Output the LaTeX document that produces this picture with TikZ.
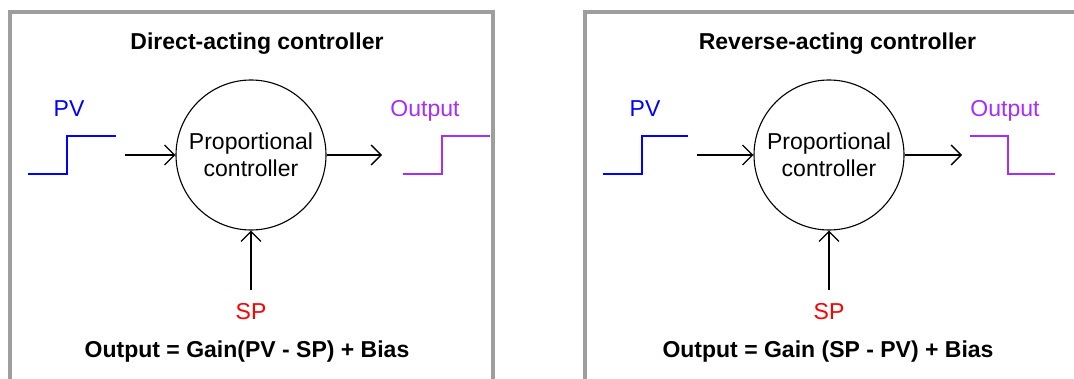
\documentclass[tikz,border=0pt]{standalone}
\usepackage{fontspec}
\setmainfont{Liberation Sans}
\usetikzlibrary{arrows.meta}
\definecolor{pvblue}{RGB}{0,0,255}
\definecolor{outviolet}{RGB}{165,45,255}
\definecolor{spred}{RGB}{255,0,0}
\begin{document}
\begin{tikzpicture}[x=0.5pt, y=-0.5pt, every node/.style={font=\fontsize{11.5}{13.5}\selectfont}, >={Straight Barb[length=5pt, width=10pt]}, panel/.style={draw=black!38, line width=2pt}, ctrl/.style={draw, circle, line width=0.55pt, minimum size=75pt, inner sep=0pt, align=center}, sig/.style={line width=0.8pt}, conn/.style={->, line width=0.65pt}, heading/.style={font=\fontsize{11.5}{13.5}\selectfont\bfseries, anchor=base}]
	\useasboundingbox (0,0) rectangle (1074,379);
	\clip (0,0) rectangle (1074,379);
	\draw[panel] (10,12) rectangle (493,420);
	\draw[panel] (585,12) rectangle (1120,420);
	% direct-acting
	\begin{scope}
		\node[heading] (titleA) at (257,50) {Direct-acting controller};
		\node[ctrl] (ctrlA) at (251,155) {Proportional\\controller};
		\node[pvblue, anchor=base] (pvA) at (69,116.5) {PV};
		\node[outviolet, anchor=base] (outA) at (425,116.5) {Output};
		\node[spred, anchor=base] (spA) at (251,319) {SP};
		\node[heading] (eqA) at (247,357) {Output = Gain(PV - SP) + Bias};
		\draw[sig, pvblue] (28,174) -- (67,174) -- (67,136) -- (116,136);
		\draw[sig, outviolet] (403,174) -- (442,174) -- (442,136) -- (490,136);
		\coordinate (pvinA) at (125,155);
		\coordinate (outendA) at (382,155);
		\draw[conn] (pvinA) -- (ctrlA);
		\draw[conn] (ctrlA) -- (outendA);
		\draw[conn] ([yshift=3pt]spA.north) -- (ctrlA.south);
	\end{scope}
	% reverse-acting
	\begin{scope}[shift={(577,0)}]
		\node[heading] (titleB) at (260.5,50) {Reverse-acting controller};
		\node[ctrl] (ctrlB) at (252,155) {Proportional\\controller};
		\node[pvblue, anchor=base] (pvB) at (68,116.5) {PV};
		\node[outviolet, anchor=base] (outB) at (428,116.5) {Output};
		\node[spred, anchor=base] (spB) at (252,319) {SP};
		\node[heading] (eqB) at (251,357) {Output = Gain (SP - PV) + Bias};
		\draw[sig, pvblue] (26,174) -- (65,174) -- (65,136) -- (111,136);
		\draw[sig, outviolet] (393,136) -- (431,136) -- (431,174) -- (478,174);
		\coordinate (pvinB) at (120,155);
		\coordinate (outendB) at (385,155);
		\draw[conn] (pvinB) -- (ctrlB);
		\draw[conn] (ctrlB) -- (outendB);
		\draw[conn] ([yshift=3pt]spB.north) -- (ctrlB.south);
	\end{scope}
\end{tikzpicture}
\end{document}
